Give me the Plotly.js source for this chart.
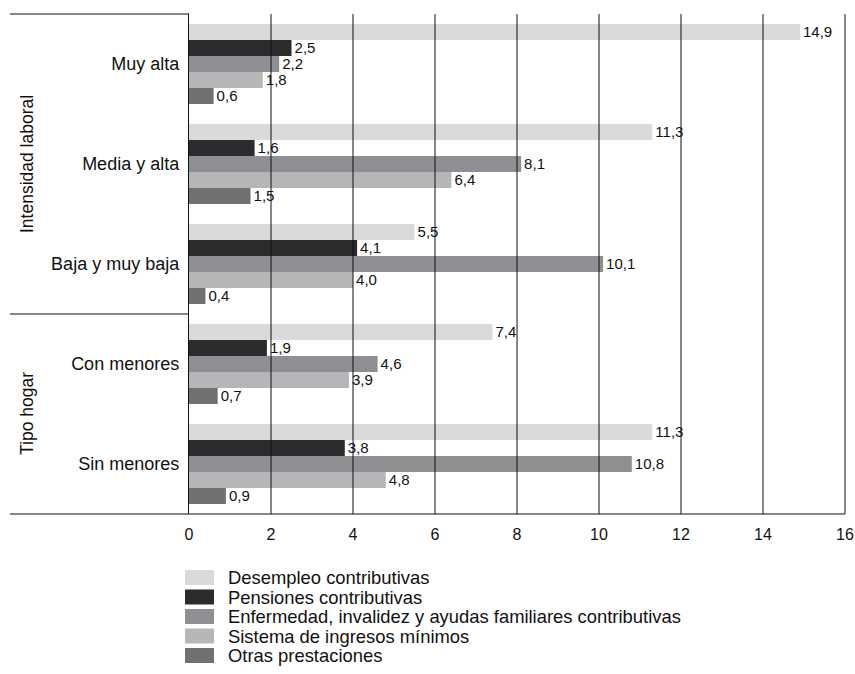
<!DOCTYPE html>
<html>
<head>
<meta charset="utf-8">
<script src="https://cdn.plot.ly/plotly-3.0.1.min.js"></script>
<style>html,body{margin:0;padding:0;background:#fff;}#chart{width:855px;height:674px;}</style>
</head>
<body>
<div id="chart"></div>
<script>
const categories = ["Muy alta", "Media y alta", "Baja y muy baja", "Con menores", "Sin menores"];
const seriesNames = [
  "Desempleo contributivas",
  "Pensiones contributivas",
  "Enfermedad, invalidez y ayudas familiares contributivas",
  "Sistema de ingresos mínimos",
  "Otras prestaciones"
];
const desempleo = [14.9, 11.3, 5.5, 7.4, 11.3];
const pensiones = [2.5, 1.6, 4.1, 1.9, 3.8];
const enfermedad = [2.2, 8.1, 10.1, 4.6, 10.8];
const sistema = [1.8, 6.4, 4.0, 3.9, 4.8];
const otras = [0.6, 1.5, 0.4, 0.7, 0.9];
const groupLabels = ["Intensidad laboral", "Tipo hogar"];
const xTicks = [0, 2, 4, 6, 8, 10, 12, 14, 16];

const seriesValues = [desempleo, pensiones, enfermedad, sistema, otras];
const colors = ["#d9dadb", "#2b2c2e", "#8e8f92", "#b5b6b8", "#707073"];
const FONT = 'Liberation Sans, Arial, Helvetica, sans-serif';

const fmt = v => v.toFixed(1).replace('.', ',');

const traces = seriesValues.map((vals, i) => ({
  type: 'bar',
  orientation: 'h',
  name: seriesNames[i],
  y: categories,
  x: vals,
  text: vals.map(fmt),
  textposition: 'outside',
  cliponaxis: false,
  textfont: {family: FONT, size: 16, color: '#111'},
  marker: {color: colors[i], line: {width: 0}},
  showlegend: false,
  hoverinfo: 'x+name'
}));

// plot box: x=0 at 189px, x=16 at 845px
const L = 189, R = 848, T = 14, B = 514;
const W = R - L, H = B - T;
const X16 = 845;
const xMax = 16 * W / (X16 - L);
const px = x => (x - L) / W;
const py = y => (B - y) / H;

const shapes = [
  {type: 'line', xref: 'paper', yref: 'paper', x0: px(10), x1: px(189), y0: py(14), y1: py(14), line: {color: '#111', width: 1.2}},
  {type: 'line', xref: 'paper', yref: 'paper', x0: px(10), x1: px(189), y0: py(314), y1: py(314), line: {color: '#111', width: 1.2}},
  {type: 'line', xref: 'paper', yref: 'paper', x0: px(10), x1: px(X16), y0: 0, y1: 0, line: {color: '#111', width: 1.2}}
];

// vertical grid lines drawn above the bars, as in the reference
xTicks.filter(t => t > 0).forEach(t => {
  shapes.push({type: 'line', xref: 'x', yref: 'paper', x0: t, x1: t, y0: 0, y1: 1,
    layer: 'above', line: {color: '#111', width: 1}});
});

const annotations = [
  {xref: 'paper', yref: 'paper', x: px(27), y: py(164), text: groupLabels[0], textangle: -90, showarrow: false,
   font: {family: FONT, size: 17.5, color: '#111'}, xanchor: 'center', yanchor: 'middle'},
  {xref: 'paper', yref: 'paper', x: px(27), y: py(414), text: groupLabels[1], textangle: -90, showarrow: false,
   font: {family: FONT, size: 17.5, color: '#111'}, xanchor: 'center', yanchor: 'middle'}
];

// Custom legend (swatch + label per series)
const legendRows = [577.5, 597, 616.5, 636, 655.5];
seriesNames.forEach((nm, i) => {
  const yc = legendRows[i];
  shapes.push({type: 'rect', xref: 'paper', yref: 'paper', x0: px(185), x1: px(214),
    y0: py(yc + 7.5), y1: py(yc - 7.5), fillcolor: colors[i], line: {width: 0}});
  annotations.push({xref: 'paper', yref: 'paper', x: px(226), y: py(yc), text: nm, showarrow: false,
    xanchor: 'left', yanchor: 'middle', font: {family: FONT, size: 18.4, color: '#111'}});
});

const layout = {
  width: 855, height: 674,
  margin: {l: L, r: 855 - R, t: T, b: 674 - B, pad: 0, autoexpand: false},
  paper_bgcolor: '#fff', plot_bgcolor: '#fff',
  font: {family: FONT, size: 16, color: '#111'},
  barmode: 'group',
  bargap: 0.2,
  bargroupgap: 0,
  xaxis: {
    range: [0, xMax], tickvals: xTicks, ticktext: xTicks.map(String),
    showgrid: false,
    zeroline: false, showline: false,
    ticks: 'outside', ticklen: 6, tickcolor: 'rgba(0,0,0,0)',
    ticklabeloverflow: 'allow',
    tickfont: {family: FONT, size: 16, color: '#111'}, fixedrange: true
  },
  yaxis: {
    autorange: 'reversed', type: 'category',
    showgrid: false, zeroline: false,
    showline: true, linecolor: '#111', linewidth: 1.2, layer: 'above traces',
    ticks: 'outside', ticklen: 5, tickcolor: 'rgba(0,0,0,0)',
    tickfont: {family: FONT, size: 18, color: '#111'}, fixedrange: true
  },
  showlegend: false,
  shapes: shapes,
  annotations: annotations
};

Plotly.newPlot('chart', traces, layout, {displayModeBar: false, staticPlot: true});
</script>
</body>
</html>
